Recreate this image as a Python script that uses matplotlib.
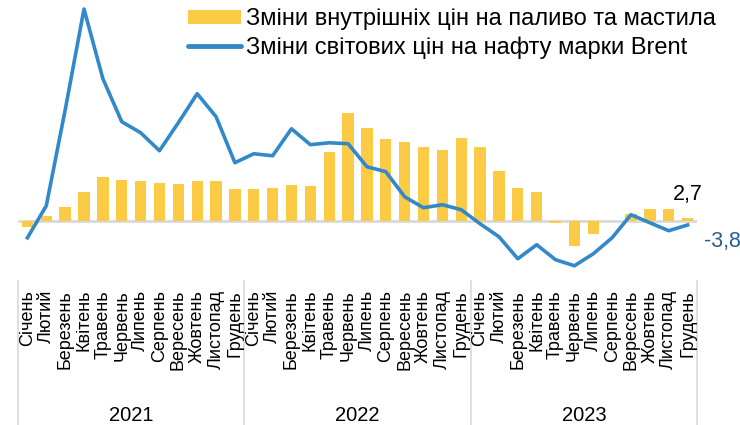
import matplotlib
matplotlib.use("Agg")
import matplotlib.pyplot as plt
from matplotlib.lines import Line2D
from matplotlib.patches import Patch

plt.rcParams["font.family"] = ["Liberation Sans", "DejaVu Sans"]

months = ["Січень", "Лютий", "Березень", "Квітень", "Травень", "Червень",
          "Липень", "Серпень", "Вересень", "Жовтень", "Листопад", "Грудень"]
years = ["2021", "2022", "2023"]

# y/y changes, %
domestic_fuel = [-5.4, 4.2, 12.5, 25.6, 39.3, 36.3, 35.7, 33.9, 32.8, 35.7, 35.4, 27.9,
                 28.3, 29.2, 31.9, 31.0, 61.0, 96.4, 82.8, 72.6, 70.3, 66.1, 63.1, 74.1,
                 65.8, 44.4, 29.2, 25.3, -1.8, -22.3, -11.9, 0.0, 6.3, 10.1, 10.4, 2.7]
brent = [-15.2, 13.4, 98.8, 189.0, 126.8, 88.4, 78.6, 62.5, 87.5, 113.4, 92.9, 51.8,
         59.8, 58.0, 82.1, 67.9, 69.6, 68.8, 48.2, 43.8, 21.4, 11.6, 14.3, 9.8,
         -2.7, -14.3, -33.9, -21.4, -34.8, -40.2, -29.5, -15.2, 5.4, -1.8, -8.9, -3.8]

x = list(range(len(domestic_fuel)))
labels = months * len(years)

fig = plt.figure(figsize=(7.4, 4.25), dpi=100)
ax = fig.add_axes([18 / 740, 1 - 280 / 425, (697 - 18) / 740, 275 / 425])

ax.axhline(0, color="#d9d9d9", lw=2, zorder=1)
ax.bar(x, domestic_fuel, width=0.6, color="#fccb45", zorder=2)
ax.plot(x, brent, color="#3289c9", lw=2.6, solid_joinstyle="round", zorder=3)

ax.set_xlim(-0.5, len(x) - 0.5)
ax.set_ylim(-52.9, 192.6)
ax.axis("off")

trans = ax.get_xaxis_transform()
for i, lab in enumerate(labels):
    ax.text(i, -0.036, lab, rotation=90, ha="center", va="top", fontsize=13,
            transform=trans, clip_on=False)
for k in range(len(years) + 1):
    ax.plot([k * 12 - 0.5] * 2, [-0.004, -0.53], color="#d9d9d9", lw=1.2,
            transform=trans, clip_on=False)
for k, yr in enumerate(years):
    ax.text(k * 12 + 5.5, -0.492, yr, ha="center", va="center", fontsize=14.5,
            transform=trans, clip_on=False)

ax.annotate(f"{domestic_fuel[-1]:.1f}".replace(".", ","), (x[-1], domestic_fuel[-1]),
            xytext=(0, 9), textcoords="offset points", ha="center", va="bottom",
            fontsize=15.5, annotation_clip=False)
ax.annotate(f"{brent[-1]:.1f}".replace(".", ","), (x[-1], brent[-1]),
            xytext=(11.5, -12), textcoords="offset points", ha="left", va="center",
            fontsize=15.5, color="#2a5d8f", annotation_clip=False)

handles = [Patch(facecolor="#fccb45", edgecolor="none"),
           Line2D([], [], color="#3289c9", lw=3.5, solid_capstyle="round")]
fig.legend(handles, ["Зміни внутрішніх цін на паливо та мастила",
                     "Зміни світових цін на нафту марки Brent"],
           loc="upper left", bbox_to_anchor=(188 / 740, 1 - 8 / 425), frameon=False,
           fontsize=17, handlelength=2.25, handleheight=0.55, handletextpad=0.22,
           labelspacing=0.28, borderpad=0, borderaxespad=0)

fig.savefig("out.png", dpi=100)
